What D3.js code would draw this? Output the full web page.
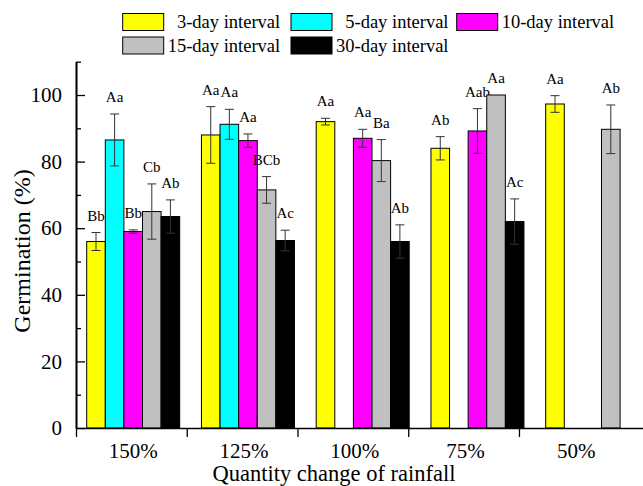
<!DOCTYPE html>
<html>
<head>
<meta charset="utf-8">
<title>Germination by rainfall change</title>
<script src="https://d3js.org/d3.v7.min.js"></script>
<style>
  body { margin: 0; background: #fff; }
  text { font-family: "Liberation Serif", "Times New Roman", serif; fill: #000; }
  .domain { stroke-width: 1.6px; }
</style>
</head>
<body>
<div id="chart"></div>
<script>
// rainfall change categories
var categories = ["150%", "125%", "100%", "75%", "50%"];
var seriesNames = ["3-day interval", "5-day interval", "10-day interval", "15-day interval", "30-day interval"];
var seriesColors = ["#ffff00", "#00ffff", "#ff00ff", "#c0c0c0", "#000000"];

// mean germination (%), one array per interval, null = no bar
var day3  = [56.0, 88.0, 92.0, 84.0, 97.3];
var day5  = [86.5, 91.2, null, null, null];
var day10 = [59.0, 86.3, 87.0, 89.2, null];
var day15 = [65.0, 71.5, 80.3, 100.0, 89.7];
var day30 = [63.5, 56.3, 56.0, 62.0, null];

// error bar half-lengths
var err3  = [2.7, 8.5, 1.0, 3.5, 2.5];
var err5  = [7.8, 4.5, null, null, null];
var err10 = [0.5, 2.0, 2.7, 6.7, null];
var err15 = [8.3, 4.0, 6.3, 0.0, 7.3];
var err30 = [5.0, 3.1, 5.0, 6.8, null];

// significance letters
var lab3  = ["Bb", "Aa", "Aa", "Ab", "Aa"];
var lab5  = ["Aa", "Aa", null, null, null];
var lab10 = ["Bb", "Aa", "Aa", "Aab", null];
var lab15 = ["Cb", "BCb", "Ba", "Aa", "Ab"];
var lab30 = ["Ab", "Ac", "Ab", "Ac", null];

var yTicks = [0, 20, 40, 60, 80, 100];
var yMinor = [10, 30, 50, 70, 90, 110];

var means = [day3, day5, day10, day15, day30];
var errs = [err3, err5, err10, err15, err30];
var labs = [lab3, lab5, lab10, lab15, lab30];

var data = [];
seriesNames.forEach(function (s, si) {
  categories.forEach(function (c, ci) {
    if (means[si][ci] == null) return;
    data.push({ cat: c, series: s, value: means[si][ci], err: errs[si][ci], label: labs[si][ci] });
  });
});

var W = 643, H = 486;
var svg = d3.select("#chart").append("svg").attr("width", W).attr("height", H);

var y = d3.scaleLinear().domain([0, 110]).range([428, 61.7]);

// axis positions (category ticks sit between groups)
var xAxisScale = d3.scaleLinear().domain([0.5, 5.62]).range([76, 643]);
// group centres for the bars
var xGroup = d3.scalePoint().domain(categories).range([133.2, 592.2]);
var xInner = d3.scaleBand().domain(seriesNames).range([-46.5, 46.5]);
var color = d3.scaleOrdinal().domain(seriesNames).range(seriesColors);

// bars
var bars = svg.append("g").selectAll("g").data(data).enter().append("g");

bars.append("rect")
  .attr("x", function (d) { return xGroup(d.cat) + xInner(d.series); })
  .attr("width", xInner.bandwidth())
  .attr("y", function (d) { return y(d.value); })
  .attr("height", function (d) { return y(0) - y(d.value); })
  .attr("fill", function (d) { return color(d.series); })
  .attr("stroke", "#000")
  .attr("stroke-width", 1);

// error bars
function cx(d) { return xGroup(d.cat) + xInner(d.series) + xInner.bandwidth() / 2; }
var eb = bars.filter(function (d) { return d.err > 0; }).append("g")
  .attr("stroke", "#333").attr("stroke-width", 1);
eb.append("line")
  .attr("x1", cx).attr("x2", cx)
  .attr("y1", function (d) { return y(d.value + d.err); })
  .attr("y2", function (d) { return y(d.value - d.err); });
eb.append("line")
  .attr("x1", function (d) { return cx(d) - 4.5; }).attr("x2", function (d) { return cx(d) + 4.5; })
  .attr("y1", function (d) { return y(d.value + d.err); })
  .attr("y2", function (d) { return y(d.value + d.err); });
eb.append("line")
  .attr("x1", function (d) { return cx(d) - 4.5; }).attr("x2", function (d) { return cx(d) + 4.5; })
  .attr("y1", function (d) { return y(d.value - d.err); })
  .attr("y2", function (d) { return y(d.value - d.err); });

// letters
bars.append("text")
  .attr("x", cx)
  .attr("y", function (d) { return y(d.value + d.err) - 12; })
  .attr("text-anchor", "middle")
  .style("font-size", "15px")
  .text(function (d) { return d.label; });

// y axis, ticks inward
svg.append("g")
  .attr("transform", "translate(76,0)")
  .call(d3.axisLeft(y).tickValues(yMinor).tickSize(-5).tickSizeOuter(0).tickFormat(""))
  .call(function (g) { g.selectAll("line").attr("stroke-width", 1.3); });
svg.append("g")
  .attr("transform", "translate(76,0)")
  .call(d3.axisLeft(y).tickValues(yTicks).tickSize(-9).tickSizeOuter(0).tickPadding(14))
  .call(function (g) {
    g.selectAll("line").attr("stroke-width", 1.3);
    g.selectAll("text").style("font-size", "21px").style("font-family", "Liberation Serif");
  });

// x axis, ticks between categories
svg.append("g")
  .attr("transform", "translate(0,428)")
  .call(d3.axisBottom(xAxisScale).tickValues([0.5, 1.5, 2.5, 3.5, 4.5]).tickSize(9).tickSizeOuter(0).tickFormat(""))
  .call(function (g) { g.selectAll("line").attr("stroke-width", 1.3); });

svg.append("g").selectAll("text").data(categories).enter().append("text")
  .attr("x", function (d, i) { return xAxisScale(i + 1) + 2; })
  .attr("y", 457.5)
  .attr("text-anchor", "middle")
  .style("font-size", "21px")
  .text(function (d) { return d; });

// axis titles
svg.append("text")
  .attr("x", 334).attr("y", 481)
  .attr("text-anchor", "middle")
  .style("font-size", "22.5px")
  .text("Quantity change of rainfall");

svg.append("text")
  .attr("transform", "translate(30,251) rotate(-90)")
  .attr("text-anchor", "middle")
  .style("font-size", "24px")
  .text("Germination (%)");

// legend
var legCols = [122.7, 291, 456.7];
var legend = svg.append("g").selectAll("g").data(seriesNames).enter().append("g")
  .attr("transform", function (d, i) {
    return "translate(" + legCols[i % 3] + "," + (13.5 + Math.floor(i / 3) * 23.5) + ")";
  });
legend.append("rect")
  .attr("width", 41).attr("height", 17)
  .attr("fill", function (d) { return color(d); })
  .attr("stroke", "#000").attr("stroke-width", 1);
legend.append("text")
  .attr("x", 45).attr("y", 14.5)
  .style("font-size", "18.5px")
  .style("white-space", "pre")
  .text(function (d) { return d.indexOf("-") === 1 ? "\u2007" + d : d; });
</script>
</body>
</html>
